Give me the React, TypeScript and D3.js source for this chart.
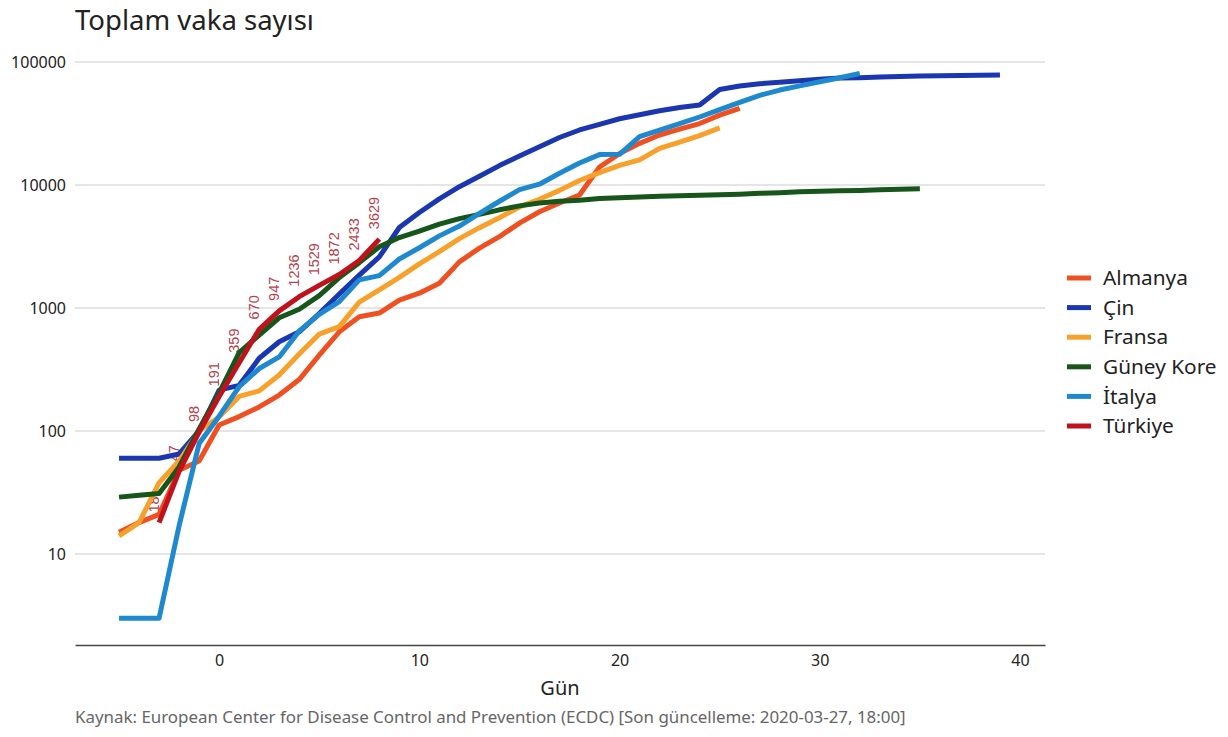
import React, { useEffect, useRef } from 'react';
import {
  axisBottom,
  axisLeft,
  format,
  line,
  ScaleLinear,
  scaleLinear,
  ScaleLogarithmic,
  scaleLog,
  select,
} from 'd3';

// values (ECDC cumulative cases, day 0 = first day past 100)
const countries = ['Almanya', 'Çin', 'Fransa', 'Güney Kore', 'İtalya', 'Türkiye'];
const startDays = [-5, -5, -5, -5, -5, -3];

const almanya = [
  15, 18, 21, 48, 57, 112, 131, 157, 196, 262, 414, 640, 850, 910, 1160, 1320,
  1590, 2370, 3070, 3800, 4900, 6060, 7140, 8300, 14000, 18000, 21800, 25500,
  28500, 31600, 37000, 42000,
];
const cin = [
  60, 60, 60, 65, 100, 215, 235, 390, 532, 640, 900, 1300, 1850, 2600, 4515,
  5974, 7711, 9692, 11791, 14380, 17205, 20438, 24324, 28018, 31161, 34546,
  37198, 40171, 42638, 44653, 59804, 63851, 66492, 68500, 70548, 72436, 74185,
  74576, 75465, 76288, 76936, 77150, 77658, 78064, 78497,
];
const fransa = [
  14, 18, 38, 57, 100, 130, 191, 212, 285, 423, 613, 706, 1116, 1402, 1774,
  2281, 2876, 3661, 4499, 5423, 6633, 7652, 9043, 10871, 12612, 14459, 16018,
  19856, 22302, 25233, 29155,
];
const guneyKore = [
  29, 30, 31, 51, 104, 204, 433, 602, 833, 977, 1261, 1766, 2337, 3150, 3736,
  4212, 4812, 5328, 5766, 6284, 6767, 7134, 7382, 7513, 7755, 7869, 7979, 8086,
  8162, 8236, 8320, 8413, 8565, 8652, 8799, 8897, 8961, 9037, 9137, 9241, 9332,
];
const italya = [
  3, 3, 3, 17, 79, 132, 229, 322, 400, 650, 888, 1128, 1694, 1835, 2502, 3089,
  3858, 4636, 5883, 7375, 9172, 10149, 12462, 15113, 17660, 17750, 24747, 27980,
  31506, 35713, 41035, 47021, 53578, 59138, 63927, 69176, 74386, 80589,
];
const turkiye = [18, 47, 98, 191, 359, 670, 947, 1236, 1529, 1872, 2433, 3629];

const seriesValues = [almanya, cin, fransa, guneyKore, italya, turkiye];

const xTicks = [0, 10, 20, 30, 40];
const yTicks = [10, 100, 1000, 10000, 100000];

const colors = ['#ee5022', '#1b37b0', '#f7a12c', '#17561a', '#1f89d0', '#c0121d'];

const FONT = '"Noto Sans", sans-serif';

interface Point {
  day: number;
  value: number;
}

interface Series {
  name: string;
  color: string;
  points: Point[];
}

const series: Series[] = countries.map((name, i) => ({
  name,
  color: colors[i],
  points: seriesValues[i].map((value, j) => ({ day: startDays[i] + j, value })),
}));

interface AxisBottomProps {
  scale: ScaleLinear<number, number, never>;
  transform: string;
}

interface AxisLeftProps {
  scale: ScaleLogarithmic<number, number, never>;
  transform: string;
}

function AxisBottom({ scale, transform }: AxisBottomProps) {
  const ref = useRef<SVGGElement>(null);

  useEffect(() => {
    if (ref.current) {
      select(ref.current)
        .call(axisBottom(scale).tickValues(xTicks).tickSize(0).tickPadding(10))
        .call((g) => {
          g.attr('font-family', FONT).attr('font-size', 16);
          g.select('.domain').attr('stroke', '#444').attr('stroke-width', 1.5);
          g.selectAll('.tick text').attr('fill', '#222');
        });
    }
  }, [scale]);

  return <g ref={ref} transform={transform} />;
}

function AxisLeft({ scale, transform }: AxisLeftProps) {
  const ref = useRef<SVGGElement>(null);

  useEffect(() => {
    if (ref.current) {
      select(ref.current)
        .call(
          axisLeft(scale)
            .tickValues(yTicks)
            .tickFormat(format('d'))
            .tickSize(0)
            .tickPadding(9)
        )
        .call((g) => {
          g.attr('font-family', FONT).attr('font-size', 16);
          g.select('.domain').remove();
          g.selectAll('.tick text').attr('fill', '#222');
        });
    }
  }, [scale]);

  return <g ref={ref} transform={transform} />;
}

export default function App() {
  const width = 1228;
  const height = 737;
  const left = 75;
  const right = 1045;
  const axisY = 645;

  const scaleX = scaleLinear().domain([-7.2, 41.25]).range([left, right]);
  const scaleY = scaleLog().domain([10, 100000]).range([554, 62]);

  const path = line<Point>()
    .x((d) => scaleX(d.day))
    .y((d) => scaleY(d.value));

  const tr = series[series.length - 1];

  return (
    <svg
      width={width}
      height={height}
      style={{ position: 'absolute', left: 0, top: 0, background: '#fff' }}
    >
      <text x={75} y={30} fontFamily={FONT} fontSize={27.5} fill="#222">
        Toplam vaka sayısı
      </text>

      {yTicks.map((t) => (
        <line
          key={`grid-${t}`}
          x1={left}
          x2={right}
          y1={scaleY(t)}
          y2={scaleY(t)}
          stroke="#cccccc"
          strokeWidth={1.2}
        />
      ))}

      <AxisLeft scale={scaleY} transform={`translate(${left}, 0)`} />
      <AxisBottom scale={scaleX} transform={`translate(0, ${axisY})`} />

      {tr.points.map((p) => (
        <text
          key={`lbl-${p.day}`}
          transform={`translate(${scaleX(p.day)}, ${scaleY(p.value) - 10}) rotate(-90)`}
          fontFamily='"Liberation Sans", Arial, sans-serif'
          fontSize={14.5}
          fill="#b5414c"
        >
          {p.value}
        </text>
      ))}

      {series.map((s) => (
        <path
          key={s.name}
          d={path(s.points) ?? ''}
          fill="none"
          stroke={s.color}
          strokeWidth={5}
          strokeLinejoin="round"
        />
      ))}

      <text
        x={(left + right) / 2}
        y={695}
        textAnchor="middle"
        fontFamily={FONT}
        fontSize={20}
        fill="#222"
      >
        Gün
      </text>

      <text x={75} y={723} fontFamily={FONT} fontSize={16.9} fill="#666">
        Kaynak: European Center for Disease Control and Prevention (ECDC) [Son
        güncelleme: 2020-03-27, 18:00]
      </text>

      {series.map((s, i) => (
        <g key={`leg-${s.name}`} transform={`translate(1067, ${278 + i * 29.6})`}>
          <line x1={0} x2={24} y1={0} y2={0} stroke={s.color} strokeWidth={5} />
          <text
            x={36}
            dy="0.35em"
            fontFamily={FONT}
            fontSize={20.8}
            fill="#222"
          >
            {s.name}
          </text>
        </g>
      ))}
    </svg>
  );
}
